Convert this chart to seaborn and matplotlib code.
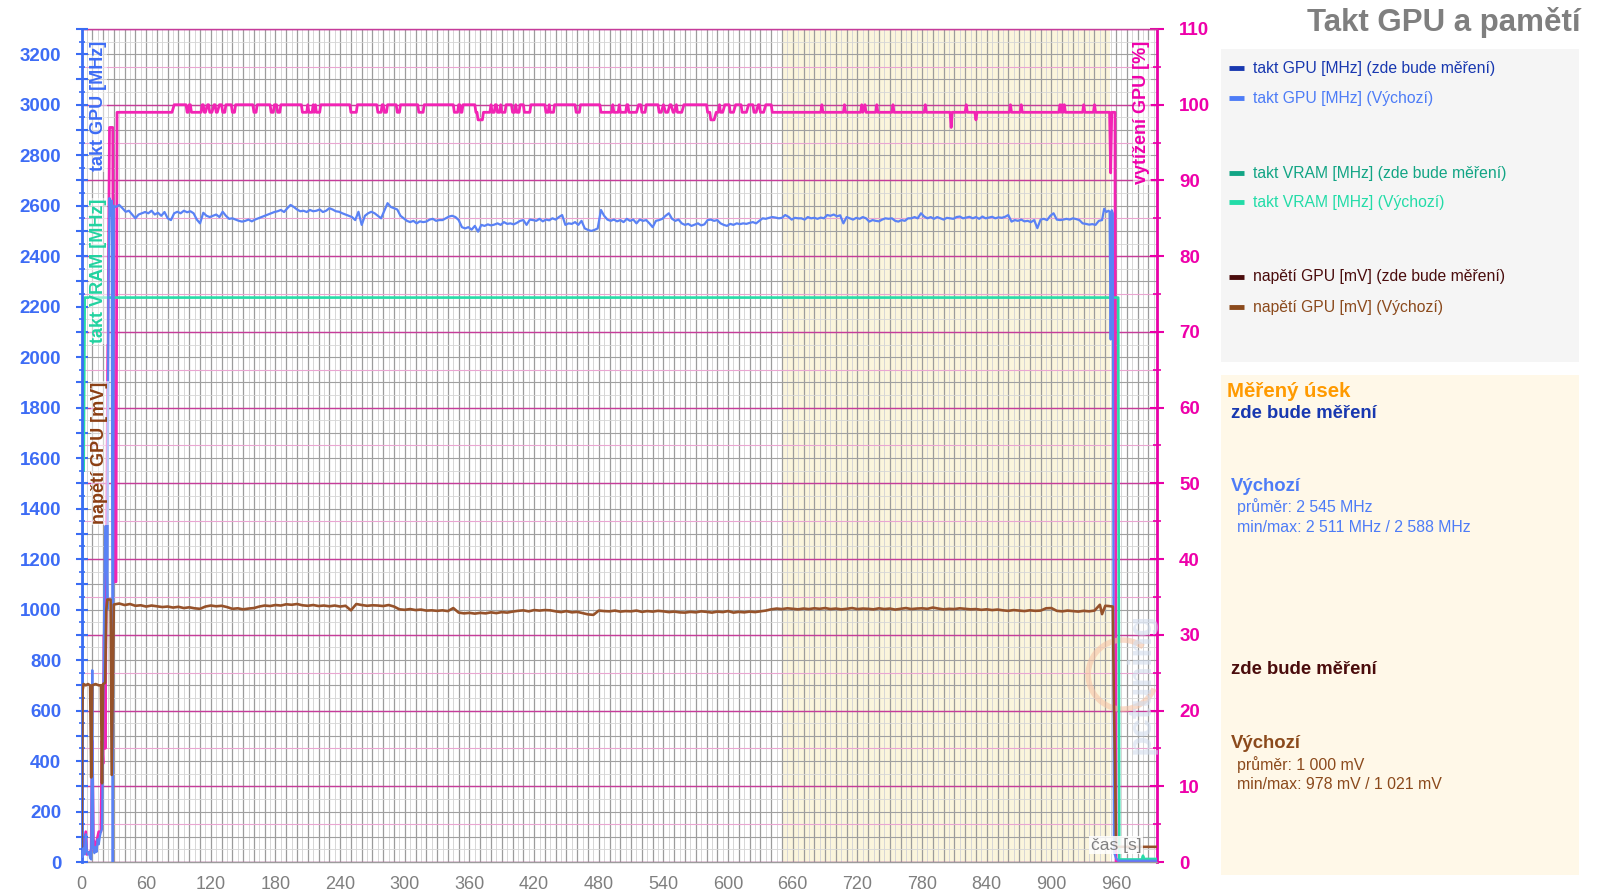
import matplotlib
matplotlib.use('Agg')
import matplotlib.pyplot as plt
import pandas as pd
import seaborn as sns
from matplotlib.ticker import MultipleLocator, FuncFormatter
from matplotlib.lines import Line2D
from matplotlib.patches import Rectangle, Arc

sns.set_theme(style='white')
plt.rcParams['font.family'] = ['Liberation Sans', 'DejaVu Sans']

# ---- data ----
# GPU clock [MHz], Výchozí
gpu_start_t = [0, 1, 2, 3, 4, 5, 6, 7, 8, 9, 10, 11, 12, 13, 14, 15, 16, 17, 18, 19,
               20, 21, 22, 23, 24, 25, 26, 27, 28, 29, 30, 32]
gpu_start = [40, 20, 55, 30, 110, 45, 30, 40, 15, 10, 760, 60, 35, 60, 40, 90, 70, 100, 120, 130,
             500, 1000, 1330, 1330, 1000, 2300, 2630, 2560, 2620, 0, 2600, 2595]
# every 3 s from 35 s to 947 s
gpu_mid = [
    2603, 2590, 2576, 2580, 2565, 2550, 2565, 2570, 2575, 2570,
    2580, 2565, 2572, 2560, 2575, 2550, 2543, 2570, 2576, 2570,
    2580, 2574, 2578, 2570, 2545, 2530, 2572, 2560, 2555, 2560,
    2565, 2555, 2576, 2560, 2548, 2550, 2545, 2540, 2537, 2540,
    2545, 2538, 2545, 2550, 2555, 2560, 2565, 2570, 2575, 2578,
    2583, 2575, 2590, 2603, 2595, 2585, 2578, 2580, 2575, 2583,
    2578, 2580, 2585, 2575, 2580, 2590, 2585, 2578, 2576, 2570,
    2565, 2560, 2555, 2543, 2576, 2524, 2560, 2570, 2576, 2570,
    2560, 2550, 2580, 2610, 2595, 2590, 2585, 2560, 2550, 2540,
    2535, 2540, 2530, 2538, 2535, 2537, 2545, 2548, 2540, 2543,
    2543, 2550, 2557, 2560, 2555, 2543, 2515, 2510, 2515, 2505,
    2520, 2497, 2524, 2520, 2526, 2522, 2525, 2530, 2524, 2535,
    2528, 2530, 2526, 2532, 2540, 2543, 2524, 2545, 2543, 2540,
    2548, 2538, 2545, 2542, 2550, 2545, 2555, 2563, 2524, 2530,
    2528, 2535, 2524, 2540, 2510, 2504, 2500, 2504, 2510, 2583,
    2560, 2545, 2540, 2545, 2538, 2543, 2535, 2548, 2540, 2545,
    2530, 2545, 2540, 2543, 2530, 2515, 2540, 2543, 2548, 2560,
    2570, 2548, 2540, 2545, 2530, 2524, 2528, 2520, 2525, 2530,
    2522, 2526, 2543, 2545, 2540, 2543, 2530, 2524, 2520, 2528,
    2524, 2530, 2527, 2530, 2528, 2532, 2535, 2530, 2540, 2550,
    2548, 2552, 2555, 2553, 2550, 2552, 2563, 2556, 2545, 2552,
    2550, 2550, 2545, 2555, 2550, 2552, 2548, 2553, 2550, 2563,
    2560, 2565, 2558, 2562, 2530, 2555, 2550, 2545, 2552, 2548,
    2555, 2550, 2537, 2543, 2540, 2538, 2545, 2550, 2548, 2550,
    2540, 2537, 2543, 2540, 2550, 2550, 2555, 2550, 2570, 2557,
    2550, 2555, 2548, 2555, 2550, 2545, 2552, 2550, 2548, 2555,
    2557, 2550, 2553, 2556, 2550, 2555, 2548, 2557, 2550, 2553,
    2556, 2550, 2554, 2552, 2556, 2563, 2537, 2543, 2540, 2545,
    2538, 2540, 2535, 2543, 2511, 2545, 2548, 2543, 2560, 2570,
    2545, 2543, 2545, 2548, 2545, 2550, 2547, 2543, 2530, 2528,
    2525, 2527, 2524, 2540, 2543,
]
gpu_end_t = [949, 951, 953, 954, 955, 956, 957, 958, 960, 962, 998]
gpu_end = [2588, 2575, 2580, 2576, 2070, 2582, 2570, 40, 15, 5, 5]

# VRAM clock [MHz], Výchozí
vram_t = [0, 1, 2, 3, 962, 963, 984, 985, 986, 998]
vram = [0, 1550, 1550, 2236, 2236, 10, 10, 25, 12, 12]

# GPU voltage [mV], Výchozí
volt_start_t = [0, 1, 2, 4, 6, 8, 9, 10, 13, 16, 18, 19, 20, 22, 23, 24, 27, 28]
volt_start = [60, 680, 705, 700, 705, 700, 335, 700, 705, 700, 700, 312, 705, 710, 1000, 1040, 1040, 345]
# every 5 s from 30 s to 945 s
volt_mid = [
    1020, 1024, 1018, 1022, 1015, 1017, 1012, 1016, 1013, 1010,
    1012, 1008, 1011, 1006, 1009, 1005, 1003, 1012, 1016, 1013,
    1015, 1010, 1003, 1005, 1001, 1004, 1006, 1012, 1016, 1014,
    1018, 1016, 1021, 1019, 1022, 1017, 1015, 1018, 1014, 1016,
    1013, 1016, 1012, 1015, 997, 1022, 1018, 1015, 1017, 1016,
    1014, 1018, 1012, 1001, 999, 1002, 998, 1000, 996, 997,
    995, 997, 994, 1006, 988, 985, 987, 984, 987, 985,
    989, 986, 990, 988, 992, 995, 997, 993, 998, 996,
    998, 997, 993, 990, 994, 989, 991, 986, 981, 979,
    996, 994, 993, 996, 992, 994, 993, 996, 991, 994,
    992, 995, 993, 990, 992, 989, 988, 991, 989, 993,
    991, 988, 992, 990, 994, 988, 991, 989, 992, 990,
    993, 996, 1001, 1004, 1002, 1005, 1003, 1001, 1004, 1002,
    1005, 1003, 1006, 1002, 1004, 1001, 1003, 1006, 1002, 1004,
    1003, 1001, 1005, 1002, 1004, 1000, 1003, 1006, 1002, 1004,
    1005, 1003, 1008, 1004, 1001, 1003, 1002, 1005, 1003, 1001,
    1002, 999, 1001, 998, 1000, 997, 995, 998, 996, 994,
    997, 995, 996, 1005, 1006, 995, 993, 996, 994, 992,
    995, 993, 996, 1019,
]
volt_end_t = [947, 950, 953, 957, 958, 959, 960, 998]
volt_end = [982, 1015, 1014, 1012, 640, 395, 60, 60]

# GPU load [%]
load_t = [0, 2, 4, 5, 9, 10, 11, 13, 16, 18, 19, 20, 21, 22, 24, 26, 29, 30, 32, 33,
          84, 86, 97, 98, 99, 100, 101, 102, 111, 112, 113, 114, 115, 117, 118, 119, 121, 123, 124, 125,
          126, 128, 130, 131, 133,
          134, 139, 140, 142, 143, 159, 160, 162, 163, 175, 176, 178, 179, 181, 182, 184, 185, 204, 205, 209,
          210, 211, 214, 215, 216, 217, 218, 221, 222, 249, 250, 255,
          256, 274, 275, 278, 279, 280, 281, 283, 284, 292, 293, 295, 296, 312, 313, 317, 318, 345, 346, 349,
          350, 351, 352, 353, 354, 365, 366, 367,
          368, 372, 373, 379, 380, 381, 383, 384, 385, 386, 388, 389, 390, 393, 394, 399, 400, 402, 403, 404,
          406, 407, 410, 411, 416, 417, 430, 431, 433, 434, 435, 438, 439, 458, 459, 462,
          463, 481, 482, 492, 493, 494, 498, 499, 500, 505, 506, 507, 508, 515, 517, 519, 520, 523, 524, 535,
          536, 538, 540, 542, 544, 546, 547, 549, 550, 552, 553, 557,
          559, 580, 581, 583, 584, 587, 589, 591, 592, 593, 595, 597, 601, 602, 605, 607, 612, 613, 617, 619,
          623, 624, 626, 628, 629, 630, 633, 635, 640, 641,
          686, 687, 688, 707, 708, 709, 723, 724, 725, 727, 728, 737, 738, 739, 752, 753, 754, 782, 783, 784,
          806, 807, 808, 820, 821, 822, 829, 830, 831, 861, 862, 863, 871, 872, 873, 907, 908, 909, 910, 911,
          912, 913, 929, 930, 931, 939, 940, 941, 954, 955, 956, 957, 959, 960, 998]
load_pct = [0, 2, 4, 1, 1.5, 16, 3, 2, 4, 4, 16, 13, 30, 15, 60, 97, 97, 37, 37, 99,
            99, 100, 100, 99, 99, 100, 100, 99, 99, 100, 100, 99, 99, 100, 100, 99, 99, 100, 100, 99,
            99, 100, 100, 99, 99,
            100, 100, 99, 99, 100, 100, 99, 99, 100, 100, 99, 99, 100, 100, 99, 99, 100, 100, 99, 99,
            100, 99, 99, 100, 99, 100, 99, 99, 100, 100, 99, 99,
            100, 100, 99, 99, 100, 100, 99, 99, 100, 100, 99, 99, 100, 100, 99, 99, 100, 100, 99, 99,
            100, 100, 99, 99, 100, 100, 99, 99,
            98, 98, 99, 99, 100, 99, 99, 100, 100, 99, 99, 100, 99, 99, 100, 100, 99, 99, 100, 99,
            99, 100, 100, 99, 99, 100, 100, 99, 99, 100, 99, 99, 100, 100, 99, 99,
            100, 100, 99, 99, 100, 99, 99, 100, 99, 99, 100, 100, 99, 99, 100, 100, 99, 99, 100, 100,
            99, 99, 100, 99, 99, 100, 100, 99, 99, 100, 99, 99,
            100, 100, 99, 99, 98, 98, 99, 99, 100, 99, 99, 100, 100, 99, 99, 100, 100, 99, 99, 100,
            100, 99, 99, 100, 100, 99, 99, 100, 100, 99,
            99, 100, 99, 99, 100, 99, 99, 100, 99, 100, 99, 99, 100, 99, 99, 100, 99, 99, 100, 99,
            99, 97, 99, 99, 100, 99, 99, 98, 99, 99, 100, 99, 99, 100, 99, 99, 100, 99, 100, 99,
            100, 99, 99, 100, 99, 99, 100, 99, 99, 91, 99, 99, 99, 0, 0]

measured_span = (651, 954)

legend_labels = ['takt GPU [MHz] (zde bude měření)', 'takt GPU [MHz] (Výchozí)',
                 'takt VRAM [MHz] (zde bude měření)', 'takt VRAM [MHz] (Výchozí)',
                 'napětí GPU [mV] (zde bude měření)', 'napětí GPU [mV] (Výchozí)']
legend_colors = ['#1838b0', '#4d7cf7', '#12a585', '#22dca8', '#4a0c0c', '#8b4a1c']

gpu_df = pd.DataFrame({'t': gpu_start_t + list(range(35, 948, 3)) + gpu_end_t,
                       'v': gpu_start + gpu_mid + gpu_end})
volt_df = pd.DataFrame({'t': volt_start_t + list(range(30, 946, 5)) + volt_end_t,
                        'v': volt_start + volt_mid + volt_end})
vram_df = pd.DataFrame({'t': vram_t, 'v': vram})
load_df = pd.DataFrame({'t': load_t, 'v': load_pct})

# ---- figure ----
W, H = 1599, 896
fx = lambda px: px / W
fy = lambda py: 1 - py / H

fig = plt.figure(figsize=(W / 100, H / 100), dpi=100)
ax = fig.add_axes([fx(81.5), fy(862), fx(1157) - fx(81.5), fy(29) - fy(862)])
ax2 = ax.twinx()   # GPU load [%]
ax3 = ax.twinx()   # background: shading and grey grid
ax3.set_zorder(-1)
ax2.set_zorder(0)
ax.set_zorder(1)
ax.patch.set_visible(False)
ax2.patch.set_visible(False)
ax3.patch.set_visible(True)
ax3.patch.set_facecolor('white')

ax.set_xlim(0, 998)
ax.set_ylim(0, 3300)
ax3.set_ylim(0, 3300)
ax2.set_ylim(0, 110)

# x ticks: labels every 60 s, dark grid 10 s, light grid 5 s
ax.xaxis.set_major_locator(MultipleLocator(10))
ax.xaxis.set_minor_locator(MultipleLocator(5))
ax.xaxis.set_major_formatter(FuncFormatter(lambda v, p: f'{int(round(v))}' if round(v) % 60 == 0 else ''))
for a in (ax, ax3):
    a.yaxis.set_major_locator(MultipleLocator(100))
    a.yaxis.set_minor_locator(MultipleLocator(50))
ax.yaxis.set_major_formatter(FuncFormatter(lambda v, p: f'{int(round(v))}' if round(v) % 200 == 0 else ''))
ax2.yaxis.set_major_locator(MultipleLocator(10))
ax2.yaxis.set_minor_locator(MultipleLocator(5))

# background layer
ax3.axvspan(*measured_span, color='#fbf5dc', zorder=0, lw=0)
ax3.xaxis.set_visible(True)
ax3.tick_params(axis='both', which='both', length=0, labelbottom=False, labeltop=False,
                labelleft=False, labelright=False)
ax3.grid(True, axis='x', which='major', color='#9c9c9c', lw=0.9)
ax3.grid(True, axis='x', which='minor', color='#d6d6d6', lw=0.7)
ax3.grid(True, axis='y', which='major', color='#a0a0a0', lw=0.8)
ax3.grid(True, axis='y', which='minor', color='#d6d6d6', lw=0.6)
for s in ax3.spines.values():
    s.set_visible(False)

# magenta grid for the load axis
ax2.grid(True, axis='y', which='major', color='#c63c9a', lw=1.0)
ax2.grid(True, axis='y', which='minor', color='#eaa6d2', lw=0.8)
ax2.set_axisbelow(True)
ax.grid(False)

# lines
sns.lineplot(data=load_df, x='t', y='v', ax=ax2, color='#f224b4', lw=2.0,
             estimator=None, sort=False, zorder=3)
sns.lineplot(data=vram_df, x='t', y='v', ax=ax, color='#28dca8', lw=1.9,
             estimator=None, sort=False, zorder=2)
sns.lineplot(data=gpu_df, x='t', y='v', ax=ax, color='#5a82f5', lw=1.6,
             estimator=None, sort=False, zorder=3)
sns.lineplot(data=volt_df, x='t', y='v', ax=ax, color='#96522a', lw=1.9,
             estimator=None, sort=False, zorder=4)
ax.set_xlabel('')
ax.set_ylabel('')
ax2.set_ylabel('')

# spines
for s in ['right', 'top', 'bottom']:
    ax.spines[s].set_visible(False)
ax.spines['left'].set_color('#3a6cf4')
ax.spines['left'].set_linewidth(2)
ax2.spines['left'].set_visible(False)
ax2.spines['right'].set_color('#e800a8')
ax2.spines['right'].set_linewidth(2)
ax2.spines['top'].set_color('#c63c9a')
ax2.spines['top'].set_linewidth(1)
ax2.spines['bottom'].set_color('#9c9c9c')
ax2.spines['bottom'].set_linewidth(1)

ax.tick_params(axis='y', which='major', direction='inout', length=9, width=1.5,
               color='#3a6cf4', labelcolor='#3d6cf5', labelsize=13.5, pad=10)
ax.tick_params(axis='y', which='minor', direction='inout', length=5, width=1.2, color='#3a6cf4')
ax.tick_params(axis='x', which='major', direction='out', length=4, width=1, color='#9c9c9c',
               labelcolor='#7f7f7f', labelsize=13, pad=6)
ax.tick_params(axis='x', which='minor', length=0)
ax2.tick_params(axis='y', which='major', direction='inout', length=10, width=1.5,
                color='#e800a8', labelcolor='#ee00aa', labelsize=13.5, pad=11)
ax2.tick_params(axis='y', which='minor', direction='inout', length=6, width=1.2, color='#e800a8')
for lbl in ax.get_yticklabels() + ax2.get_yticklabels():
    lbl.set_fontweight('bold')

# axis titles drawn inside the plot
lab_box = dict(facecolor='white', alpha=0.55, edgecolor='none', pad=0.5)
ax.text(0.0155, 0.986, 'takt GPU [MHz]', transform=ax.transAxes, rotation=90, ha='center', va='top',
        color='#3d6cf5', fontsize=13, fontweight='bold', bbox=lab_box, zorder=6)
ax.text(0.0155, 0.796, 'takt VRAM [MHz]', transform=ax.transAxes, rotation=90, ha='center', va='top',
        color='#22d3a0', fontsize=13, fontweight='bold', bbox=lab_box, zorder=6)
ax.text(0.0170, 0.576, 'napětí GPU [mV]', transform=ax.transAxes, rotation=90, ha='center', va='top',
        color='#8b3e12', fontsize=13, fontweight='bold', bbox=lab_box, zorder=6)
ax.text(0.986, 0.986, 'vytížení GPU [%]', transform=ax.transAxes, rotation=90, ha='center', va='top',
        color='#ee00aa', fontsize=13, fontweight='bold', bbox=lab_box, zorder=6)

# faint watermark
ax.add_patch(Arc((0.968, 0.225), 0.064, 0.083, theta1=60, theta2=330, transform=ax.transAxes,
                 color='#f6c3a6', lw=4, alpha=0.6, zorder=1))
ax.text(0.985, 0.215, 'pctuning', transform=ax.transAxes, rotation=90, ha='center', va='center',
        color='#d2ddee', fontsize=24, fontweight='bold', alpha=0.6, zorder=1)
ax.text(0.962, 0.02, 'čas [s]', transform=ax.transAxes, ha='center', va='center',
        color='#808080', fontsize=12.5, zorder=6,
        bbox=dict(facecolor='white', alpha=0.85, edgecolor='none', pad=1))

# title
fig.text(fx(1581), fy(22), 'Takt GPU a pamětí', ha='right', va='center',
         fontsize=22.5, fontweight='bold', color='#7f7f7f')

# legend panel
fig.add_artist(Rectangle((fx(1221), fy(362)), fx(1579) - fx(1221), fy(49) - fy(362),
                         transform=fig.transFigure, facecolor='#f5f5f5', edgecolor='none', zorder=0))
rows_y = [68, 98, 173, 202, 277, 307]
for yy, lab, col in zip(rows_y, legend_labels, legend_colors):
    fig.add_artist(Line2D([fx(1229), fx(1244)], [fy(yy), fy(yy)], transform=fig.transFigure,
                          color=col, lw=3.5, solid_capstyle='butt'))
    fig.text(fx(1253), fy(yy), lab, ha='left', va='center', fontsize=11.3, color=col)

# statistics panel
fig.add_artist(Rectangle((fx(1221), fy(875)), fx(1579) - fx(1221), fy(375) - fy(875),
                         transform=fig.transFigure, facecolor='#fff8e8', edgecolor='none', zorder=0))
fig.text(fx(1227), fy(391), 'Měřený úsek', ha='left', va='center', fontsize=14.7,
         fontweight='bold', color='#ff9a00')
fig.text(fx(1231), fy(413), 'zde bude měření', ha='left', va='center', fontsize=13.3,
         fontweight='bold', color='#1838b0')
fig.text(fx(1231), fy(486), 'Výchozí', ha='left', va='center', fontsize=13.3,
         fontweight='bold', color='#4d7cf7')
fig.text(fx(1237), fy(507), 'průměr: 2 545 MHz', ha='left', va='center', fontsize=11.4, color='#4d7cf7')
fig.text(fx(1237), fy(527), 'min/max: 2 511 MHz / 2 588 MHz', ha='left', va='center', fontsize=11.4,
         color='#4d7cf7')
fig.text(fx(1231), fy(669), 'zde bude měření', ha='left', va='center', fontsize=13.3,
         fontweight='bold', color='#4a0c0c')
fig.text(fx(1231), fy(743), 'Výchozí', ha='left', va='center', fontsize=13.3,
         fontweight='bold', color='#8b4a1c')
fig.text(fx(1237), fy(765), 'průměr: 1 000 mV', ha='left', va='center', fontsize=11.4, color='#8b4a1c')
fig.text(fx(1237), fy(784), 'min/max: 978 mV / 1 021 mV', ha='left', va='center', fontsize=11.4,
         color='#8b4a1c')

fig.savefig('out.png', dpi=100)
